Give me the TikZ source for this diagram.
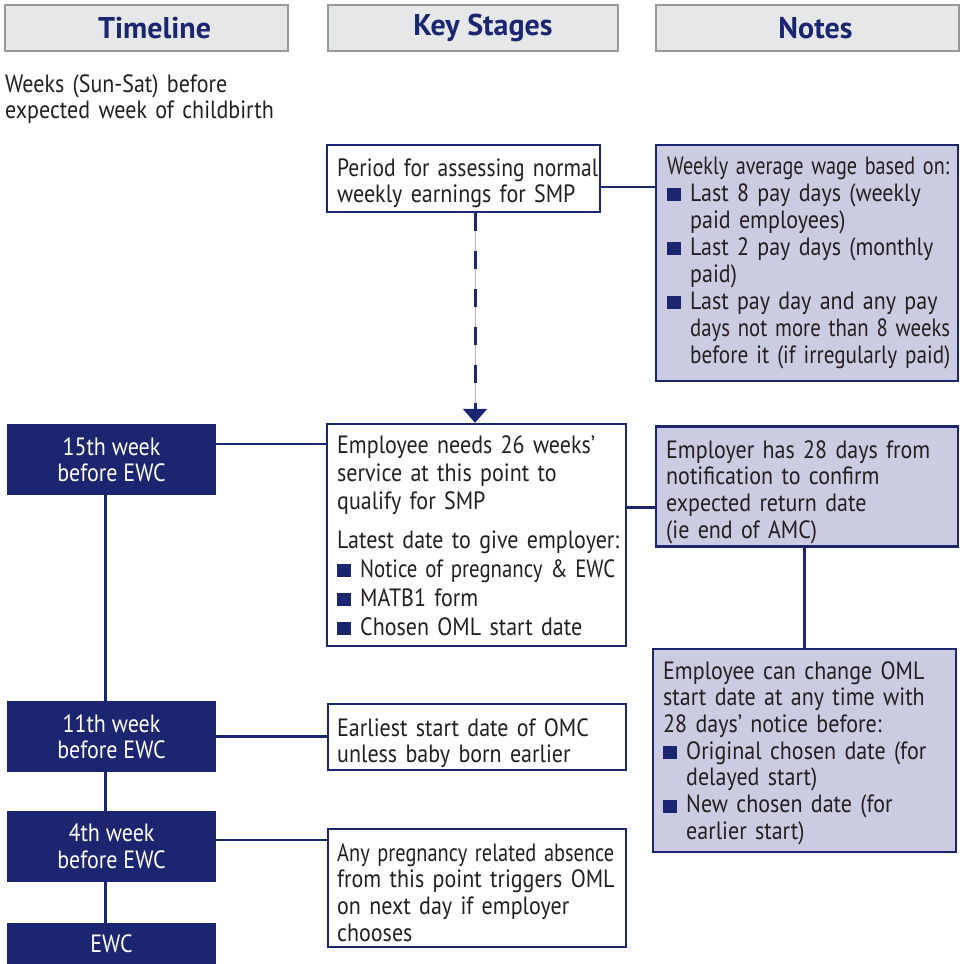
\documentclass[tikz,border=0pt]{standalone}
\usepackage{fontspec}
\usepackage{graphicx}
\setmainfont[FakeStretch=0.88]{PT Sans}
\newfontfamily\hdfont{PT Sans}
\usetikzlibrary{arrows.meta}
\definecolor{navy}{RGB}{28,37,112}
\definecolor{lav}{RGB}{203,203,225}
\definecolor{lavline}{RGB}{180,180,215}
\definecolor{hdfill}{RGB}{230,231,233}
\definecolor{hdgray}{RGB}{150,152,155}
\definecolor{txtgray}{RGB}{35,31,32}
\newcommand\bsq{\textcolor{navy}{\rule{14pt}{13pt}}}
\newcommand\bitem{\par\hangindent=23pt\hangafter=1\noindent\makebox[23pt][l]{\bsq}}
\newcommand\fitw[2]{\resizebox{#1}{\height}{#2}}
\begin{document}
\begin{tikzpicture}[x=1pt,y=-1pt,
  body/.style={font=\fontsize{25}{26.7}\selectfont, text=txtgray},
  txt/.style={body, anchor=north west, inner sep=0pt, align=left, text width=#1,
    execute at begin node={\hyphenpenalty=10000\strut}},
  txt/.default=400pt,
  hdr/.style={draw=hdgray, line width=2.5pt, fill=hdfill, inner sep=0pt, minimum height=46pt,
    font=\hdfont\bfseries\fontsize{30}{32}\selectfont, text=navy},
  tbox/.style={fill=navy, inner sep=0pt, minimum width=209pt, text=white, align=center,
    font=\fontsize{25}{26.5}\selectfont},
  wbox/.style={draw=navy, line width=2.5pt, fill=white, inner sep=0pt},
  lbox/.style={draw=navy, line width=2.5pt, fill=lav, inner sep=0pt},
  conn/.style={draw=navy, line width=2.5pt},
]
\useasboundingbox (0,0) rectangle (963,964);

% headers
\node[hdr, minimum width=283pt] (h1) at (146.5,28) {\hspace*{16pt}Timeline};
\node[hdr, minimum width=290pt] (h2) at (473,28) {\hspace*{20pt}Key Stages};
\node[hdr, minimum width=303pt] (h3) at (807.5,28) {\hspace*{16pt}Notes};

\node[txt] (sub) at (5,73.3) {Weeks (Sun-Sat) before\\expected week of childbirth};

% key stage boxes
\node[wbox, minimum width=273pt, minimum height=67pt] (p1) at (463.5,178.5) {};
\node[wbox, minimum width=299pt, minimum height=222pt] (e1) at (476.5,535) {};
\node[wbox, minimum width=298pt, minimum height=66pt] (ea) at (477,737) {};
\node[wbox, minimum width=298pt, minimum height=118pt] (an) at (477,888) {};

% notes boxes
\node[lbox, minimum width=302pt, minimum height=236pt] (n1) at (807,263) {};
\node[lbox, minimum width=302pt, minimum height=120pt] (n2) at (807,486.5) {};
\node[lbox, minimum width=303pt, minimum height=203pt] (n3) at (804.5,750.5) {};

% timeline boxes
\node[tbox, minimum height=71pt] (t1) at (111.5,459.5) {15th week\\before EWC};
\node[tbox, minimum height=71pt] (t2) at (111.5,736.5) {11th week\\before EWC};
\node[tbox, minimum height=71pt] (t3) at (111.5,846.5) {4th week\\before EWC};
\node[tbox, minimum height=42pt] (t4) at (111.5,944) {EWC};

% connectors
\draw[conn] ([yshift=-8.5pt]p1.east) -- ([yshift=-8.5pt]p1.east -| n1.west);
\draw[conn] ([yshift=15.5pt]t1.east) -- ([yshift=15.5pt]t1.east -| e1.west);
\draw[conn] ([yshift=27.5pt]e1.east) -- ([yshift=27.5pt]e1.east -| n2.west);
\draw[conn] (n2.south -| n3.north) -- (n3.north);
\draw[conn] (t2.east) -- (t2.east -| ea.west);
\draw[conn] ([yshift=6.5pt]t3.east) -- ([yshift=6.5pt]t3.east -| an.west);
\draw[conn] ([xshift=-6pt]t1.south) -- ([xshift=-6pt]t2.north);
\draw[conn] ([xshift=-6pt]t2.south) -- ([xshift=-6pt]t3.north);
\draw[conn] ([xshift=-6pt]t3.south) -- ([xshift=-6pt]t4.north);

% dashed arrow
\draw[lavline, line width=1pt] ([xshift=-1.5pt]e1.north |- p1.south) -- ([xshift=-1.5pt]e1.north);
\draw[navy, line width=3pt, dash pattern=on 18pt off 20pt, -{Triangle[width=24pt,length=14pt]}]
  ([xshift=-1.5pt]e1.north |- p1.south) -- ([xshift=-1.5pt]e1.north);

% texts
\node[txt] (p1t) at (337,157.3) {\fitw{261pt}{Period for assessing normal}\\weekly earnings for SMP};
\node[txt, font=\fontsize{25}{27}\selectfont] (n1t) at (667,155.1) {\fitw{282pt}{Weekly average wage based on:}%
\bitem Last 8 pay days (weekly\newline paid employees)%
\bitem Last 2 pay days (monthly\newline paid)%
\bitem Last pay day and any pay\newline \fitw{260pt}{days not more than 8 weeks}\newline \fitw{260pt}{before it (if irregularly paid)}\par};
\node[txt, font=\fontsize{25}{28}\selectfont] (e1t) at (337,433.4) {Employee needs 26 weeks’\\service at this point to\\qualify for SMP\par\vspace{11pt}%
\noindent Latest date to give employer:\par\vspace{1pt}%
\bitem \fitw{255pt}{Notice of pregnancy \& EWC}\par\vspace{1pt}%
\bitem MATB1 form\par\vspace{1pt}%
\bitem Chosen OML start date\par};
\node[txt] (n2t) at (666,439.3) {Employer has 28 days from\\notification to confirm\\expected return date\\(ie end of AMC)};
\node[txt] (n3t) at (663,660.3) {Employee can change OML\\start date at any time with\\28 days’ notice before:%
\bitem Original chosen date (for\newline delayed start)%
\bitem New chosen date (for\newline earlier start)\par};
\node[txt] (eat) at (337,717.3) {Earliest start date of OMC\\unless baby born earlier};
\node[txt] (ant) at (337,842.3) {\fitw{277pt}{Any pregnancy related absence}\\from this point triggers OML\\on next day if employer\\chooses};
\end{tikzpicture}
\end{document}
